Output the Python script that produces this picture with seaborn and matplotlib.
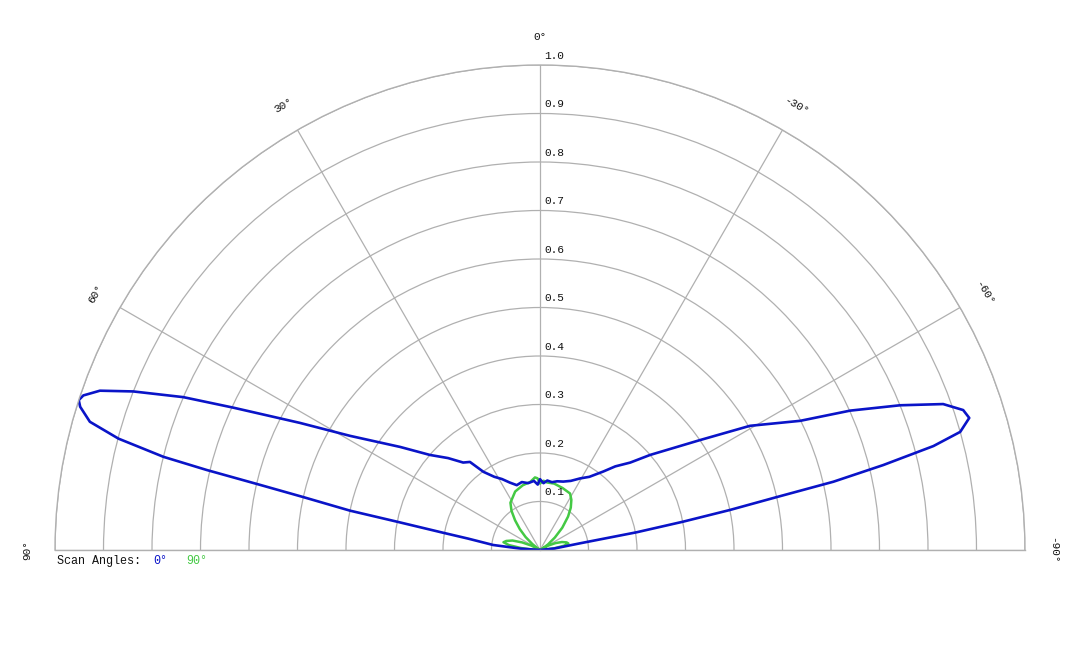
import numpy as np
import pandas as pd
import matplotlib
matplotlib.use("Agg")
import matplotlib.pyplot as plt
import seaborn as sns

# scan 0 deg (blue), angle in degrees (+ = left), normalised radius
blue_deg = [90, 86, 83.9, 81, 79.9, 78.8, 78.3, 77.4, 76.9, 76.5, 76.1, 75.2, 74.1,
            72.7, 72.0, 71.3, 70.1, 68.7, 66.8, 65.1, 62.1, 59.0, 53.6, 49.2, 45,
            41.3, 38.5, 35.9, 32, 28.2, 24, 19.7, 15, 10, 5, 2, 0,
            -3, -6, -10, -14, -18.8, -24, -29.2, -34, -38.9, -42, -45.9, -49.2, -55.5,
            -59.4, -63.6, -65.8, -68.1, -70.1, -71.7, -72.9, -74.3, -75.2, -76.1,
            -76.9, -77.4, -78.1, -78.8, -79.6, -80.5, -84, -90]
blue_r = [0.0, 0.04, 0.097, 0.15, 0.203, 0.301, 0.4, 0.5, 0.593, 0.707, 0.8, 0.899, 0.965,
          0.993, 1.0, 0.994, 0.965, 0.9, 0.8, 0.697, 0.56, 0.457, 0.358, 0.3, 0.268,
          0.24, 0.232, 0.199, 0.178, 0.166, 0.152, 0.142, 0.145, 0.14, 0.143, 0.135, 0.146,
          0.138, 0.144, 0.142, 0.146, 0.149, 0.156, 0.169, 0.182, 0.208, 0.232, 0.259, 0.3, 0.4,
          0.503, 0.599, 0.701, 0.8, 0.884, 0.919, 0.926, 0.9, 0.839, 0.729,
          0.621, 0.5, 0.4, 0.301, 0.203, 0.084, 0.03, 0.0]

# scan 90 deg (green)
green_deg = [90, 87, 84, 81, 78, 75, 71, 67, 63, 60, 56, 52, 48, 44, 40, 36, 32, 23, 15,
             8, 4, 2, 0, -3, -6, -12, -20, -28, -32, -36, -40, -45, -50, -55, -60, -62,
             -66, -70, -74, -77, -80, -83, -86, -90]
green_r = [0.0, 0.015, 0.04, 0.065, 0.077, 0.072, 0.06, 0.04, 0.02, 0.0, 0.005, 0.02, 0.04,
           0.06, 0.08, 0.1, 0.115, 0.131, 0.138, 0.142, 0.15, 0.148, 0.137, 0.143, 0.14,
           0.14, 0.136, 0.132, 0.122, 0.108, 0.09, 0.065, 0.04, 0.02, 0.005, 0.02,
           0.035, 0.048, 0.057, 0.06, 0.05, 0.03, 0.012, 0.0]

theta_ticks = [-90, -60, -30, 0, 30, 60, 90]
r_ticks = [0.1, 0.2, 0.3, 0.4, 0.5, 0.6, 0.7, 0.8, 0.9, 1.0]

BLUE = "#0a14c8"
GREEN = "#44c944"
GRID = "#b0b0b0"
MONO = ["Liberation Mono", "DejaVu Sans Mono"]

sns.set_style("white")
plt.rcParams["font.family"] = MONO

fig = plt.figure(figsize=(10.8, 6.48), dpi=100)
# half-disc of radius 485 px centred at (540, 550) px from the top;
# the polar wedge is drawn at half the box size, so the box is doubled
R = 485
ax = fig.add_axes([(540 - 2 * R) / 1080, (648 - 307.5 - R) / 648, 4 * R / 1080, 2 * R / 648],
                  projection="polar")
ax.set_theta_zero_location("N")
ax.set_thetamin(-90)
ax.set_thetamax(90)
ax.set_rlim(0, 1)

ax.set_xticks(np.deg2rad(theta_ticks))
ax.set_xticklabels([])
ax.set_yticks(r_ticks)
ax.set_yticklabels([])
ax.grid(True, color=GRID, lw=0.9)
for sp in ax.spines.values():
    sp.set_color(GRID)
    sp.set_linewidth(1.0)

blue_df = pd.DataFrame({"theta": np.deg2rad(blue_deg), "r": blue_r})
green_df = pd.DataFrame({"theta": np.deg2rad(green_deg), "r": green_r})

sns.lineplot(data=green_df, x="theta", y="r", ax=ax, color=GREEN, lw=1.8,
             sort=False, estimator=None)
sns.lineplot(data=blue_df, x="theta", y="r", ax=ax, color=BLUE, lw=1.9,
             sort=False, estimator=None)
ax.set_xlabel("")
ax.set_ylabel("")

for t in theta_ticks:
    ax.text(np.deg2rad(t), 1.058, f"{t}°", rotation=t, rotation_mode="anchor",
            ha="center", va="center", fontsize=8, color="#111111")

for r in r_ticks:
    ax.annotate(f"{r:.1f}", xy=(0, r), xytext=(3, 3), textcoords="offset points",
                ha="left", va="bottom", fontsize=8, color="#111111")

y_leg = (648 - 561) / 648
fig.text(57 / 1080, y_leg, "Scan Angles:", fontsize=8.5, color="#111111", va="center")
fig.text(153 / 1080, y_leg, "0°", fontsize=8.5, color=BLUE, va="center")
fig.text(186 / 1080, y_leg, "90°", fontsize=8.5, color=GREEN, va="center")

fig.savefig("out.png", dpi=100)
